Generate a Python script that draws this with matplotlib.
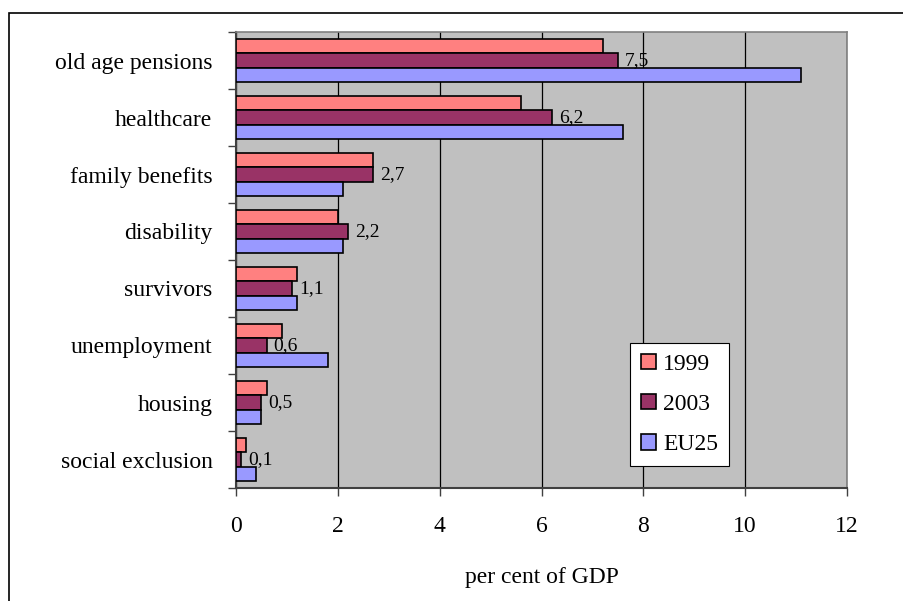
import matplotlib
matplotlib.use("Agg")
import matplotlib.pyplot as plt
import numpy as np
from matplotlib.patches import Rectangle

categories = ["old age pensions", "healthcare", "family benefits", "disability",
              "survivors", "unemployment", "housing", "social exclusion"]
series_names = ["1999", "2003", "EU25"]
values_1999 = [7.2, 5.6, 2.7, 2.0, 1.2, 0.9, 0.6, 0.2]
values_2003 = [7.5, 6.2, 2.7, 2.2, 1.1, 0.6, 0.5, 0.1]
values_eu25 = [11.1, 7.6, 2.1, 2.1, 1.2, 1.8, 0.5, 0.4]
labels_2003 = ["7,5", "6,2", "2,7", "2,2", "1,1", "0,6", "0,5", "0,1"]
x_ticks = [0, 2, 4, 6, 8, 10, 12]

colors = ["#FF8080", "#993366", "#9999FF"]

plt.rcParams["font.family"] = ["Liberation Serif", "DejaVu Serif"]

W, H = 904, 601
fig = plt.figure(figsize=(W / 100, H / 100), dpi=100)
ax = fig.add_axes([236 / W, 1 - 488 / H, (847 - 236) / W, (488 - 32) / H])
ax.set_facecolor("#C0C0C0")

n = len(categories)
y = np.arange(n)
bar_h = 0.256
all_series = [values_1999, values_2003, values_eu25]
for i, (vals, name, col) in enumerate(zip(all_series, series_names, colors)):
    offs = (i - 1) * bar_h
    ax.barh(y + offs, vals, height=bar_h, color=col, edgecolor="black",
            linewidth=1.2, label=name, zorder=3)

# value labels on the 2003 bars
for yi, v, lab in zip(y, values_2003, labels_2003):
    ax.annotate(lab, xy=(v, yi), xytext=(5, 0), textcoords="offset points",
                va="center", ha="left", fontsize=14, zorder=4)

ax.set_xlim(0, 12)
ax.set_ylim(n - 0.5, -0.5)
ax.set_xticks(x_ticks)
ax.set_xticklabels([str(t) for t in x_ticks], fontsize=17)
ax.xaxis.grid(True, color="black", linewidth=0.9, zorder=1)
ax.set_axisbelow(True)
ax.tick_params(axis="x", direction="out", length=6, width=1, pad=14,
               color="#404040")

ax.set_yticks(y)
ax.set_yticklabels(categories, fontsize=17)
ax.set_yticks(np.arange(n + 1) - 0.5, minor=True)
ax.tick_params(axis="y", which="major", length=0, pad=17)
ax.tick_params(axis="y", which="minor", direction="out", length=6, width=1,
               color="#404040")

ax.set_xlabel("per cent of GDP", fontsize=17, labelpad=22)

for side in ["left", "bottom"]:
    ax.spines[side].set_color("#404040")
    ax.spines[side].set_linewidth(1.5)
for side in ["top", "right"]:
    ax.spines[side].set_color("#808080")
    ax.spines[side].set_linewidth(1.2)

leg = ax.legend(loc="upper left", bbox_to_anchor=((630 - 236) / 611, 1 - (343 - 32) / 456),
                fontsize=17, frameon=True, fancybox=False, edgecolor="black",
                framealpha=1, handlelength=0.65, handleheight=0.65,
                handletextpad=0.3, labelspacing=0.8, borderpad=0.45,
                borderaxespad=0)
leg.get_frame().set_linewidth(0.8)
leg.get_frame().set_facecolor("white")
leg.set_zorder(5)

# outer chart border
fig.patches.append(Rectangle((9 / W, -0.05), 1.1, 1 - 13 / H + 0.05,
                             transform=fig.transFigure, fill=False,
                             edgecolor="black", linewidth=1.2))

fig.savefig("out.png", dpi=100, facecolor="white")
